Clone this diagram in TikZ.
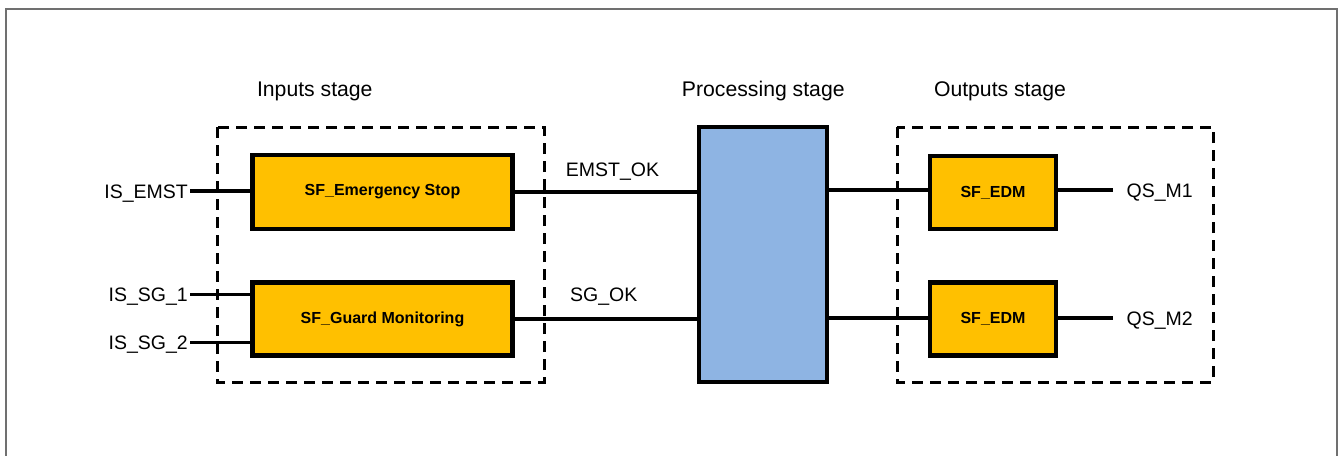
\documentclass[tikz,border=0pt]{standalone}
\usepackage{fontspec}
\setmainfont{Liberation Sans}
\definecolor{sfyellow}{RGB}{255,192,0}
\definecolor{procblue}{RGB}{142,180,227}
\definecolor{framegray}{RGB}{112,112,112}
\begin{document}
\begin{tikzpicture}[x=1pt,y=-1pt,
  block/.style={draw=black, line width=4.6pt, fill=sfyellow, inner sep=0pt,
    font=\fontsize{16}{18}\selectfont\bfseries},
  procbox/.style={draw=black, line width=4.6pt, fill=procblue, inner sep=0pt},
  stagebox/.style={draw=black, line width=3pt, dash pattern=on 11pt off 7pt},
  wire/.style={draw=black, line width=3.6pt},
  sig/.style={inner ysep=0pt, inner xsep=2pt, text height=14pt, text depth=0pt,
    font=\fontsize{19.5}{22}\selectfont},
  stage/.style={inner sep=0pt, text height=15.2pt, text depth=0pt,
    font=\fontsize{21.2}{24}\selectfont}
]
\useasboundingbox (0,0) rectangle (1338,455);

% outer frame (open at the bottom)
\draw[framegray, line width=2pt] (5.5,456) -- (5.5,8.5) -- (1336.5,8.5) -- (1336.5,456);

% stage titles
\node[stage] (tin)   at (314.8,88.8) {Inputs stage};
\node[stage] (tproc) at (763.3,88.8) {Processing stage};
\node[stage] (tout)  at (1000,88.8)  {Outputs stage};

% dashed stage frames
\draw[stagebox] (217,127) rectangle (544,382);
\draw[stagebox] (897,127) rectangle (1213,382);

% function blocks
\node[block, minimum width=260pt, minimum height=74pt] (es) at (382.5,192) {SF\_Emergency Stop};
\node[block, minimum width=260pt, minimum height=73pt] (gm) at (382.5,319) {SF\_Guard Monitoring};
\node[procbox, minimum width=128pt, minimum height=255pt] (proc) at (763,254.5) {};
\node[block, minimum width=126pt, minimum height=73pt] (edm1) at (993,192.5) {SF\_EDM};
\node[block, minimum width=126pt, minimum height=73pt] (edm2) at (993,319) {SF\_EDM};

% input signals
\node[sig, anchor=east] (isemst) at (190,191) {IS\_EMST};
\node[sig, anchor=east] (issg1)  at (190,294.3) {IS\_SG\_1};
\node[sig, anchor=east] (issg2)  at (190,342.5) {IS\_SG\_2};

% output signals
\node[sig, anchor=west, inner xsep=13.5pt] (qsm1) at (1113,190) {QS\_M1};
\node[sig, anchor=west, inner xsep=13.5pt] (qsm2) at (1113,318) {QS\_M2};

% internal signal names
\node[sig] (emstok) at (612.5,169.3) {EMST\_OK};
\node[sig] (sgok)   at (603.7,294.5) {SG\_OK};

% wiring
\draw[wire] (isemst.east) -- (isemst.east -| es.west);
\draw[wire] (issg1.east) -- (issg1.east -| gm.west);
\draw[wire] (issg2.east) -- (issg2.east -| gm.west);
\draw[wire] (es.east) -- (es.east -| proc.west);
\draw[wire] (gm.east) -- (gm.east -| proc.west);
\draw[wire] (proc.east |- qsm1.west) -- (edm1.west |- qsm1.west);
\draw[wire] (proc.east |- qsm2.west) -- (edm2.west |- qsm2.west);
\draw[wire] (edm1.east |- qsm1.west) -- (qsm1.west);
\draw[wire] (edm2.east |- qsm2.west) -- (qsm2.west);
\end{tikzpicture}
\end{document}
